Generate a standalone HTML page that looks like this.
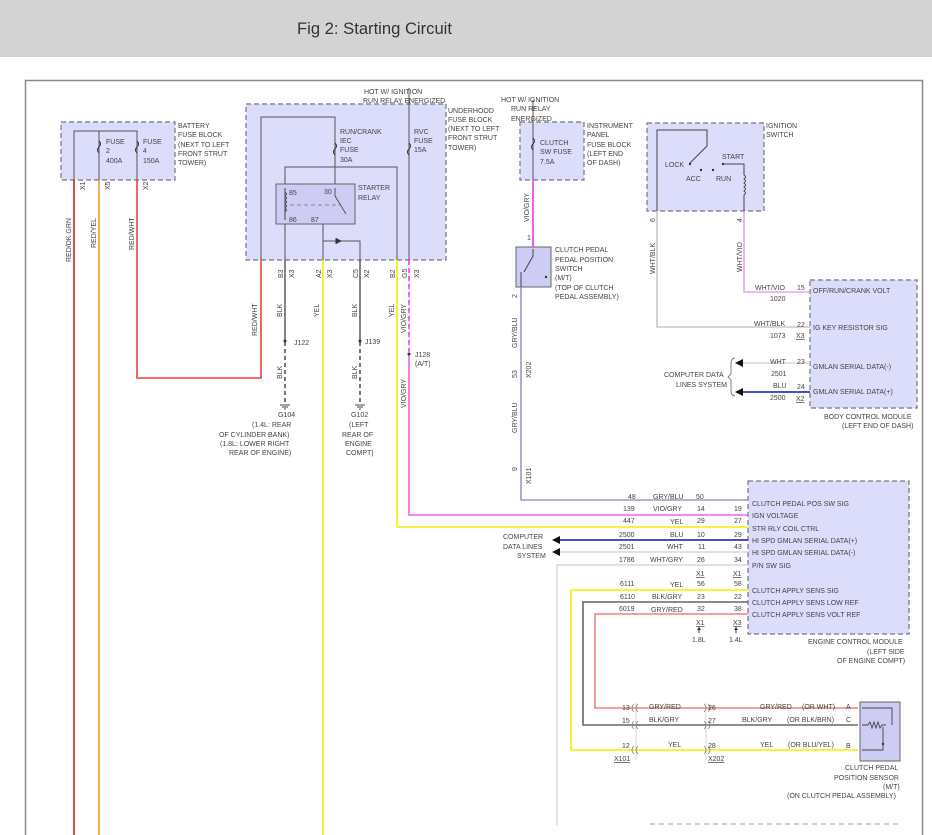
<!DOCTYPE html>
<html><head><meta charset="utf-8"><style>
html,body{margin:0;padding:0;background:#fff;width:932px;height:835px;overflow:hidden}
svg{display:block}
text{font-family:"Liberation Sans",sans-serif;font-size:7px;fill:#444}
.t{font-size:7px}
</style></head><body>
<svg width="932" height="835" viewBox="0 0 932 835" xmlns="http://www.w3.org/2000/svg">
<rect x="0" y="0" width="932" height="57" fill="#d3d3d3"/>
<text x="297" y="34" style="font-size:17px;fill:#333" textLength="155" lengthAdjust="spacingAndGlyphs">Fig 2: Starting Circuit</text>
<path d="M25.5 835V80.5H922.5V835" fill="none" stroke="#8a8a8a" stroke-width="1.5"/>

<!-- boxes -->
<g fill="#dcdcfb" stroke="#777" stroke-width="1.2" stroke-dasharray="5,3">
<rect x="61" y="122" width="114" height="58"/>
<rect x="246" y="104" width="200" height="156"/>
<rect x="520" y="122" width="64" height="58"/>
<rect x="647" y="123" width="117" height="88"/>
<rect x="810" y="280" width="107" height="128"/>
<rect x="748" y="481" width="161" height="153"/>
</g>
<rect x="276" y="184" width="79" height="40" fill="#ccccf4" stroke="#666" stroke-width="1"/>
<rect x="516" y="247" width="35" height="40" fill="#ccccf4" stroke="#666" stroke-width="1"/>
<rect x="860" y="702" width="40" height="59" fill="#ccccf4" stroke="#666" stroke-width="1"/>

<!-- battery fuse block internals -->
<g fill="none" stroke="#555" stroke-width="1">
<path d="M74 180V131H137V180"/>
<path d="M99 131V180"/>
<path d="M99 141q3 3 0 6q-3 3 0 6M137 141q3 3 0 6q-3 3 0 6" stroke="#333"/>
</g>
<g fill="none" stroke-width="1.6">
<path d="M74 180V835" stroke="#e02020"/>
<path d="M99 180V835" stroke="#f0a020"/>
<path d="M137 180V378H261V260" stroke="#f04040"/>
</g>
<text x="106" y="144">FUSE</text><text x="106" y="153">2</text><text x="106" y="163">400A</text>
<text x="143" y="144">FUSE</text><text x="143" y="153">4</text><text x="143" y="163">150A</text>
<text x="178" y="128">BATTERY</text><text x="178" y="137">FUSE BLOCK</text><text x="178" y="147">(NEXT TO LEFT</text><text x="178" y="156">FRONT STRUT</text><text x="178" y="165">TOWER)</text>
<text transform="translate(85,190) rotate(-90)">X1</text>
<text transform="translate(110,190) rotate(-90)">X5</text>
<text transform="translate(148,190) rotate(-90)">X2</text>
<text transform="translate(71,262) rotate(-90)">RED/DK GRN</text>
<text transform="translate(96,248) rotate(-90)">RED/YEL</text>
<text transform="translate(134,250) rotate(-90)">RED/WHT</text>

<!-- underhood internals -->
<g fill="none" stroke="#555" stroke-width="1">
<path d="M261 260V117H335V184"/>
<path d="M285 184V167H397V260"/>
<path d="M409 88V260"/>
<path d="M285 224V260M323 224V260M323 241H360V260"/>
<path d="M285 188V220" stroke="#444"/>
<path d="M285 192q3 2 0 4q3 2 0 4q3 2 0 4q3 2 0 4q3 2 0 4"/>
<path d="M290 205H340" stroke-dasharray="4,3" stroke="#888"/>
<path d="M335 188V196L346 214"/>
</g>
<path d="M335 143q3 3 0 6q-3 3 0 6M409 143q3 3 0 6q-3 3 0 6" fill="none" stroke="#333" stroke-width="1"/>
<path d="M336 238L342 241L336 244Z" fill="#333"/><path d="M336 238V244" stroke="#333"/>
<text x="364" y="94">HOT W/ IGNITION</text><text x="363" y="103">RUN RELAY ENERGIZED</text>
<text x="448" y="113">UNDERHOOD</text><text x="448" y="122">FUSE BLOCK</text><text x="448" y="131">(NEXT TO LEFT</text><text x="448" y="140">FRONT STRUT</text><text x="448" y="150">TOWER)</text>
<text x="340" y="134">RUN/CRANK</text><text x="340" y="143">IEC</text><text x="340" y="152">FUSE</text><text x="340" y="162">30A</text>
<text x="414" y="134">RVC</text><text x="414" y="143">FUSE</text><text x="414" y="152">15A</text>
<text x="358" y="190">STARTER</text><text x="358" y="200">RELAY</text>
<text x="289" y="195">85</text><text x="324" y="194">30</text><text x="289" y="222">86</text><text x="311" y="222">87</text>
<g>
<text transform="translate(283,278) rotate(-90)">B3</text><text transform="translate(294,278) rotate(-90)">X3</text>
<text transform="translate(321,278) rotate(-90)">A2</text><text transform="translate(332,278) rotate(-90)">X3</text>
<text transform="translate(358,278) rotate(-90)">C5</text><text transform="translate(369,278) rotate(-90)">X2</text>
<text transform="translate(395,278) rotate(-90)">B2</text><text transform="translate(407,278) rotate(-90)">G5</text><text transform="translate(419,278) rotate(-90)">X3</text>
</g>
<!-- underhood wires -->
<g fill="none" stroke-width="1.6">
<path d="M285 260V340" stroke="#666"/>
<path d="M285 342V402" stroke="#555" stroke-dasharray="4,3"/>
<path d="M360 260V340" stroke="#666"/>
<path d="M360 342V402" stroke="#555" stroke-dasharray="4,3"/>
<path d="M323 260V835" stroke="#f0f000"/>
<path d="M397 260V527H748" stroke="#f0f000"/>
<path d="M409 260V352" stroke="#ff30ff" stroke-dasharray="5,3"/>
<path d="M409 355V515H748" stroke="#f060f0"/>
</g>
<circle cx="285" cy="341" r="1.5" fill="#333"/><circle cx="360" cy="341" r="1.5" fill="#333"/><circle cx="409" cy="354" r="1.5" fill="#333"/>
<g stroke="#444" stroke-width="1"><path d="M280 405H290M282 407H288M284 409H286M355 405H365M357 407H363M359 409H361"/></g>
<text transform="translate(257,336) rotate(-90)">RED/WHT</text>
<text transform="translate(282,317) rotate(-90)">BLK</text>
<text transform="translate(319,317) rotate(-90)">YEL</text>
<text transform="translate(357,317) rotate(-90)">BLK</text>
<text transform="translate(394,317) rotate(-90)">YEL</text>
<text transform="translate(406,333) rotate(-90)">VIO/GRY</text>
<text transform="translate(282,379) rotate(-90)">BLK</text>
<text transform="translate(357,379) rotate(-90)">BLK</text>
<text transform="translate(406,408) rotate(-90)">VIO/GRY</text>
<text x="294" y="345">J122</text><text x="365" y="344">J139</text>
<text x="415" y="357">J128</text><text x="415" y="366">(A/T)</text>
<text x="278" y="417">G104</text>
<text x="252" y="427">(1.4L: REAR</text>
<text x="219" y="437">OF CYLINDER BANK)</text>
<text x="220" y="446">(1.8L: LOWER RIGHT</text>
<text x="229" y="455">REAR OF ENGINE)</text>
<text x="351" y="417">G102</text><text x="349" y="427">(LEFT</text><text x="342" y="437">REAR OF</text><text x="345" y="446">ENGINE</text><text x="346" y="455">COMPT)</text>

<!-- clutch fuse + switch -->
<g fill="none" stroke-width="1">
<path d="M533 100V180" stroke="#555"/>
<path d="M533 138q3 3 0 6q-3 3 0 6" stroke="#333"/>
<path d="M533 180V247" stroke="#e040e0" stroke-width="1.6"/>
<path d="M533 249V256L524 272M521 272V287" stroke="#444"/>
<path d="M521 287V500H748" stroke="#9a9ac8" stroke-width="1.6"/>
</g>
<circle cx="546" cy="277" r="1.2" fill="#333"/>
<text x="501" y="102">HOT W/ IGNITION</text><text x="511" y="111">RUN RELAY</text><text x="511" y="121">ENERGIZED</text>
<text x="540" y="145">CLUTCH</text><text x="540" y="154">SW FUSE</text><text x="540" y="164">7.5A</text>
<text x="587" y="128">INSTRUMENT</text><text x="587" y="137">PANEL</text><text x="587" y="147">FUSE BLOCK</text><text x="587" y="156">(LEFT END</text><text x="587" y="165">OF DASH)</text>
<text transform="translate(529,222) rotate(-90)">VIO/GRY</text><text x="527" y="240">1</text>
<text x="555" y="252">CLUTCH PEDAL</text><text x="555" y="262">PEDAL POSITION</text><text x="555" y="271">SWITCH</text><text x="555" y="280">(M/T)</text><text x="555" y="290">(TOP OF CLUTCH</text><text x="555" y="299">PEDAL ASSEMBLY)</text>
<text transform="translate(517,298) rotate(-90)">2</text>
<text transform="translate(517,348) rotate(-90)">GRY/BLU</text>
<text transform="translate(517,378) rotate(-90)">53</text><text transform="translate(531,378) rotate(-90)">X202</text>
<text transform="translate(517,433) rotate(-90)">GRY/BLU</text>
<text transform="translate(517,471) rotate(-90)">9</text><text transform="translate(531,484) rotate(-90)">X101</text>

<!-- ignition switch -->
<g fill="none" stroke="#444" stroke-width="1">
<path d="M657 211V130H707V146L690 163"/>
<path d="M723 164H744V175q3 2 0 4q3 2 0 4q3 2 0 4q3 2 0 4q3 2 0 4V211"/>
</g>
<circle cx="690" cy="164" r="1.2" fill="#333"/><circle cx="701" cy="170" r="1.2" fill="#333"/><circle cx="713" cy="170" r="1.2" fill="#333"/><circle cx="723" cy="164" r="1.2" fill="#333"/>
<text x="766" y="128">IGNITION</text><text x="766" y="137">SWITCH</text>
<text x="665" y="167">LOCK</text><text x="722" y="159">START</text><text x="686" y="181">ACC</text><text x="716" y="181">RUN</text>
<text transform="translate(655,222) rotate(-90)">6</text><text transform="translate(742,222) rotate(-90)">4</text>
<g fill="none" stroke-width="1.6">
<path d="M657 211V327H810" stroke="#c8c8c8"/>
<path d="M744 211V292H810" stroke="#f0a0f0"/>
<path d="M740 363H810" stroke="#d8d8d8"/>
<path d="M740 392H810" stroke="#1010c0"/>
</g>
<path d="M735 363l8-4v8zM735 392l8-4v8z" fill="#111"/>
<path d="M735 358q-4 0-4 6v10l-3 3l3 3v10q0 6 4 6" fill="none" stroke="#666" stroke-width="0.8"/>
<text transform="translate(655,274) rotate(-90)">WHT/BLK</text>
<text transform="translate(742,272) rotate(-90)">WHT/VIO</text>
<text x="755" y="290">WHT/VIO</text><text x="797" y="290">15</text><text x="770" y="301">1020</text>
<text x="754" y="326">WHT/BLK</text><text x="797" y="327">22</text><text x="770" y="338">1073</text><text x="796" y="338" text-decoration="underline">X3</text>
<text x="770" y="364">WHT</text><text x="797" y="364">23</text><text x="771" y="376">2501</text>
<text x="773" y="388">BLU</text><text x="797" y="389">24</text><text x="770" y="400">2500</text><text x="796" y="401" text-decoration="underline">X2</text>
<text x="664" y="377">COMPUTER DATA</text><text x="676" y="387">LINES SYSTEM</text>
<text x="813" y="293">OFF/RUN/CRANK VOLT</text><text x="813" y="330">IG KEY RESISTOR SIG</text><text x="813" y="369">GMLAN SERIAL DATA(-)</text><text x="813" y="394">GMLAN SERIAL DATA(+)</text>
<text x="824" y="419">BODY CONTROL MODULE</text><text x="842" y="428">(LEFT END OF DASH)</text>

<!-- ECM wires -->
<g fill="none" stroke-width="1.6">
<path d="M560 540H748" stroke="#1010c0"/>
<path d="M560 552H748" stroke="#d8d8d8"/>
<path d="M557 825V565H748" stroke="#d8d8d8"/>
<path d="M748 590H571V750H858" stroke="#f0f000"/>
<path d="M748 602H583V725H858" stroke="#666"/>
<path d="M748 614H595V708H858" stroke="#f08080"/>
</g>
<path d="M552 540l8-4v8zM552 552l8-4v8z" fill="#111"/>
<path d="M650 824H898" stroke="#888" stroke-dasharray="5,4" stroke-width="0.8"/>
<g>
<text x="628" y="499">48</text><text x="653" y="499">GRY/BLU</text><text x="696" y="499">50</text>
<text x="623" y="511">139</text><text x="653" y="511">VIO/GRY</text><text x="697" y="511">14</text><text x="734" y="511">19</text>
<text x="623" y="523">447</text><text x="670" y="524">YEL</text><text x="697" y="523">29</text><text x="734" y="523">27</text>
<text x="619" y="537">2500</text><text x="670" y="537">BLU</text><text x="697" y="537">10</text><text x="734" y="537">29</text>
<text x="619" y="549">2501</text><text x="667" y="549">WHT</text><text x="698" y="549">11</text><text x="734" y="549">43</text>
<text x="619" y="562">1786</text><text x="650" y="562">WHT/GRY</text><text x="697" y="562">26</text><text x="734" y="562">34</text>
<text x="696" y="576" text-decoration="underline">X1</text><text x="733" y="576" text-decoration="underline">X1</text>
<text x="620" y="586">6111</text><text x="670" y="587">YEL</text><text x="697" y="586">56</text><text x="734" y="586">58</text>
<text x="620" y="599">6110</text><text x="652" y="599">BLK/GRY</text><text x="697" y="599">23</text><text x="734" y="599">22</text>
<text x="619" y="611">6019</text><text x="651" y="612">GRY/RED</text><text x="697" y="611">32</text><text x="734" y="611">38</text>
<text x="696" y="625" text-decoration="underline">X1</text><text x="733" y="625" text-decoration="underline">X3</text>
<path d="M699 627V633M736 627V633" stroke="#333"/><path d="M697 630l2-3l2 3zM734 630l2-3l2 3z" fill="#333"/>
<text x="692" y="642">1.8L</text><text x="729" y="642">1.4L</text>
</g>
<text x="752" y="506">CLUTCH PEDAL POS SW SIG</text>
<text x="752" y="518">IGN VOLTAGE</text>
<text x="752" y="531">STR RLY COIL CTRL</text>
<text x="752" y="543">HI SPD GMLAN SERIAL DATA(+)</text>
<text x="752" y="555">HI SPD GMLAN SERIAL DATA(-)</text>
<text x="752" y="568">P/N SW SIG</text>
<text x="752" y="593">CLUTCH APPLY SENS SIG</text>
<text x="752" y="605">CLUTCH APPLY SENS LOW REF</text>
<text x="752" y="617">CLUTCH APPLY SENS VOLT REF</text>
<text x="808" y="644">ENGINE CONTROL MODULE</text><text x="867" y="654">(LEFT SIDE</text><text x="837" y="663">OF ENGINE COMPT)</text>
<text x="503" y="539">COMPUTER</text><text x="503" y="549">DATA LINES</text><text x="517" y="558">SYSTEM</text>

<!-- bottom connectors -->
<g fill="none" stroke="#888" stroke-width="0.8">
<path d="M636 702V760M706 702V760" stroke="#ccc"/>
<path d="M634 704q-4 4 0 8M638 704q-4 4 0 8M634 721q-4 4 0 8M638 721q-4 4 0 8M634 746q-4 4 0 8M638 746q-4 4 0 8"/>
<path d="M704 704q4 4 0 8M708 704q4 4 0 8M704 721q4 4 0 8M708 721q4 4 0 8M704 746q4 4 0 8M708 746q4 4 0 8"/>
</g>
<g fill="none" stroke="#444" stroke-width="0.9">
<path d="M862 708H892V725M862 725h6l2-3l2 6l2-6l2 6l2-6l2 6l2-3h4M883 727V744M862 750H883V744"/>
</g>
<circle cx="883" cy="744" r="1.2" fill="#333"/>
<text x="622" y="710">13</text><text x="649" y="709">GRY/RED</text><text x="708" y="710">26</text><text x="760" y="709">GRY/RED</text><text x="802" y="709">(OR WHT)</text><text x="846" y="709">A</text>
<text x="622" y="723">15</text><text x="649" y="722">BLK/GRY</text><text x="708" y="723">27</text><text x="742" y="722">BLK/GRY</text><text x="787" y="722">(OR BLK/BRN)</text><text x="846" y="722">C</text>
<text x="622" y="748">12</text><text x="668" y="747">YEL</text><text x="708" y="748">28</text><text x="760" y="747">YEL</text><text x="788" y="747">(OR BLU/YEL)</text><text x="846" y="748">B</text>
<text x="614" y="761" text-decoration="underline">X101</text><text x="708" y="761" text-decoration="underline">X202</text>
<text x="845" y="770">CLUTCH PEDAL</text><text x="834" y="780">POSITION SENSOR</text><text x="883" y="789">(M/T)</text><text x="787" y="798">(ON CLUTCH PEDAL ASSEMBLY)</text>
</svg>
</body></html>
